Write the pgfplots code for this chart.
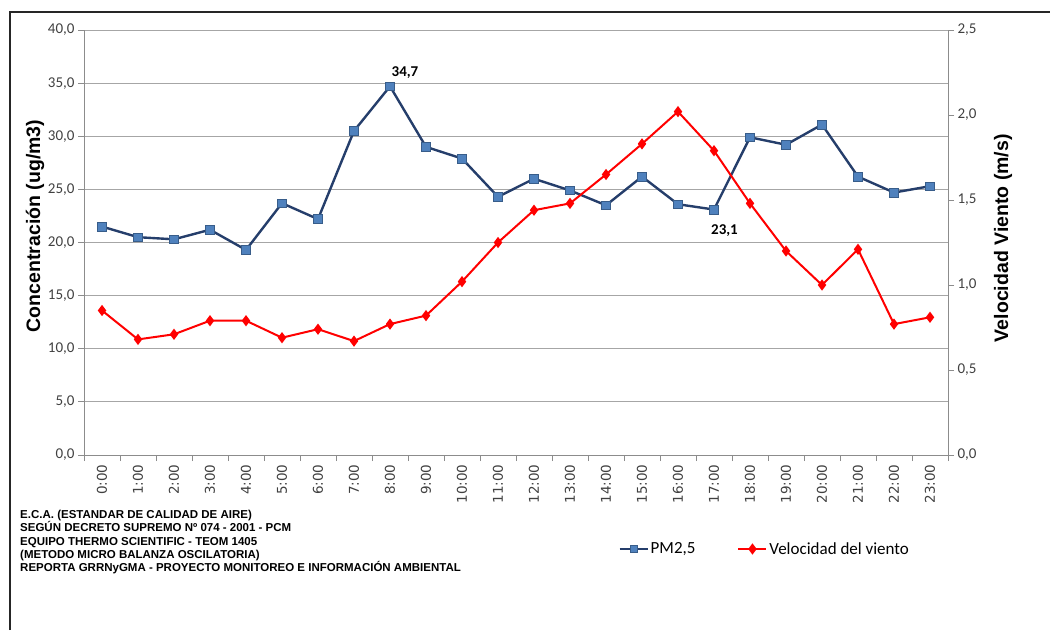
\documentclass[border=0pt]{standalone}
\usepackage{pgfplots}
\pgfplotsset{compat=1.18}
\usepackage{fontspec}
\setmainfont{Carlito}
\newfontfamily\arial{Liberation Sans}
\newfontfamily\dejavu{DejaVu Sans}
\definecolor{pmline}{HTML}{253E6B}
\definecolor{pmfill}{HTML}{4F81BD}
\definecolor{pmedge}{HTML}{385D8A}
\definecolor{wind}{HTML}{FF0000}
\definecolor{gridc}{HTML}{A6A6A6}
\definecolor{axc}{HTML}{8C8C8C}
\definecolor{tickc}{HTML}{404040}
\pgfplotsset{
  pmstyle/.style={pmline, line width=2.4pt, mark=square*, mark size=4.3pt,
    mark options={fill=pmfill, draw=pmedge, line width=0.7pt, solid}},
  windstyle/.style={wind, line width=2pt, mark=diamond*, mark size=4pt,
    mark options={fill=wind, draw=wind, solid}},
}
\begin{document}
\begin{tikzpicture}
\useasboundingbox (0pt,0pt) rectangle (1050pt,630pt);
\draw[black!85, line width=1.5pt] (10pt,0pt) -- (10pt,618pt) -- (1050pt,618pt);
\begin{axis}[
  at={(84pt,175pt)}, anchor=south west, scale only axis,
  width=864pt, height=425pt,
  xmin=-0.5, xmax=23.5, ymin=0, ymax=40,
  axis x line*=bottom, axis y line*=left,
  axis line style={axc, line width=1pt, -},
  tick align=outside, major tick length=6pt, minor tick length=6pt,
  xtick={0,...,23},
  xticklabels={0:00,1:00,2:00,3:00,4:00,5:00,6:00,7:00,8:00,9:00,10:00,11:00,12:00,13:00,14:00,15:00,16:00,17:00,18:00,19:00,20:00,21:00,22:00,23:00},
  minor xtick={-0.5,0.5,...,23.5},
  major x tick style={draw=none},
  minor x tick style={draw=axc, line width=0.8pt},
  y tick style={draw=axc, line width=0.8pt},
  ytick={0,5,...,40},
  ymajorgrids, major grid style={gridc, line width=0.9pt},
  yticklabel style={/pgf/number format/.cd, fixed, fixed zerofill, precision=1, use comma, assume math mode=true,
    /tikz/.cd, font=\fontsize{15}{17}\selectfont, color=tickc},
  xticklabel style={rotate=90, anchor=east, font=\dejavu\fontsize{13.5}{15}\selectfont, color=tickc},
  ylabel={Concentración (ug/m3)},
  ylabel style={at={(axis description cs:-0.0567,0.539)}, anchor=center,
    font=\arial\bfseries\fontsize{19.5}{22}\selectfont, color=black},
  clip=false,
]
\addplot[pmstyle] coordinates {
(0,21.5) (1,20.5) (2,20.3) (3,21.2) (4,19.3) (5,23.7) (6,22.2) (7,30.5)
(8,34.7) (9,29.0) (10,27.9) (11,24.3) (12,26.0) (13,24.9) (14,23.5) (15,26.2)
(16,23.6) (17,23.1) (18,29.9) (19,29.2) (20,31.1) (21,26.2) (22,24.7) (23,25.3)};
\addplot[draw=none, mark=none, nodes near coords, point meta=explicit symbolic,
  nodes near coords style={anchor=center, xshift=15pt, yshift=13.5pt,
    font=\bfseries\fontsize{15}{17}\selectfont, color=black}]
  coordinates {(8,34.7) [{34,7}]};
\addplot[draw=none, mark=none, nodes near coords, point meta=explicit symbolic,
  nodes near coords style={anchor=center, xshift=10.5pt, yshift=-20.7pt,
    font=\bfseries\fontsize{15}{17}\selectfont, color=black}]
  coordinates {(17,23.1) [{23,1}]};
\end{axis}
\begin{axis}[
  at={(84pt,175pt)}, anchor=south west, scale only axis,
  width=864pt, height=425pt,
  xmin=-0.5, xmax=23.5, ymin=0, ymax=2.5,
  axis x line=none, axis y line*=right,
  axis line style={axc, line width=1pt, -},
  tick align=outside, major tick length=6pt,
  y tick style={draw=axc, line width=0.8pt},
  ytick={0,0.5,...,2.5},
  yticklabel style={/pgf/number format/.cd, fixed, fixed zerofill, precision=1, use comma, assume math mode=true,
    /tikz/.cd, font=\fontsize{15}{17}\selectfont, color=tickc},
  ylabel={Velocidad Viento (m/s)},
  ylabel style={at={(axis description cs:1.0637,0.510)}, anchor=center,
    font=\arial\bfseries\fontsize{19.5}{22}\selectfont, color=black},
  legend columns=2,
  legend style={at={(axis description cs:0.788,-0.2212)}, anchor=center,
    draw=none, fill=none, font=\fontsize{17}{20}\selectfont,
    /tikz/every even column/.append style={column sep=40pt},
    nodes={inner sep=2pt}},
  legend image code/.code={\draw[mark repeat=2, mark phase=2] plot coordinates {(0pt,0pt) (14pt,0pt) (28pt,0pt)};},
  clip=false,
]
\addlegendimage{pmstyle, line width=2pt, mark size=3.5pt}
\addlegendentry{PM2,5}
\addplot[windstyle] coordinates {
(0,0.85) (1,0.68) (2,0.71) (3,0.79) (4,0.79) (5,0.69) (6,0.74) (7,0.67)
(8,0.77) (9,0.82) (10,1.02) (11,1.25) (12,1.44) (13,1.48) (14,1.65) (15,1.83)
(16,2.02) (17,1.79) (18,1.48) (19,1.20) (20,1.00) (21,1.21) (22,0.77) (23,0.81)};
\addlegendentry{Velocidad del viento}
\end{axis}
\node[anchor=north west, align=left, inner sep=0pt,
  font=\arial\bfseries\fontsize{11.5}{13.3}\selectfont]
  at (20pt,120pt) {E.C.A. (ESTANDAR DE CALIDAD DE AIRE)\\
SEGÚN DECRETO SUPREMO Nº 074 - 2001 - PCM\\
EQUIPO THERMO SCIENTIFIC - TEOM 1405\\
(METODO MICRO BALANZA OSCILATORIA)\\
REPORTA GRRNyGMA - PROYECTO MONITOREO E INFORMACIÓN AMBIENTAL};
\end{tikzpicture}
\end{document}
